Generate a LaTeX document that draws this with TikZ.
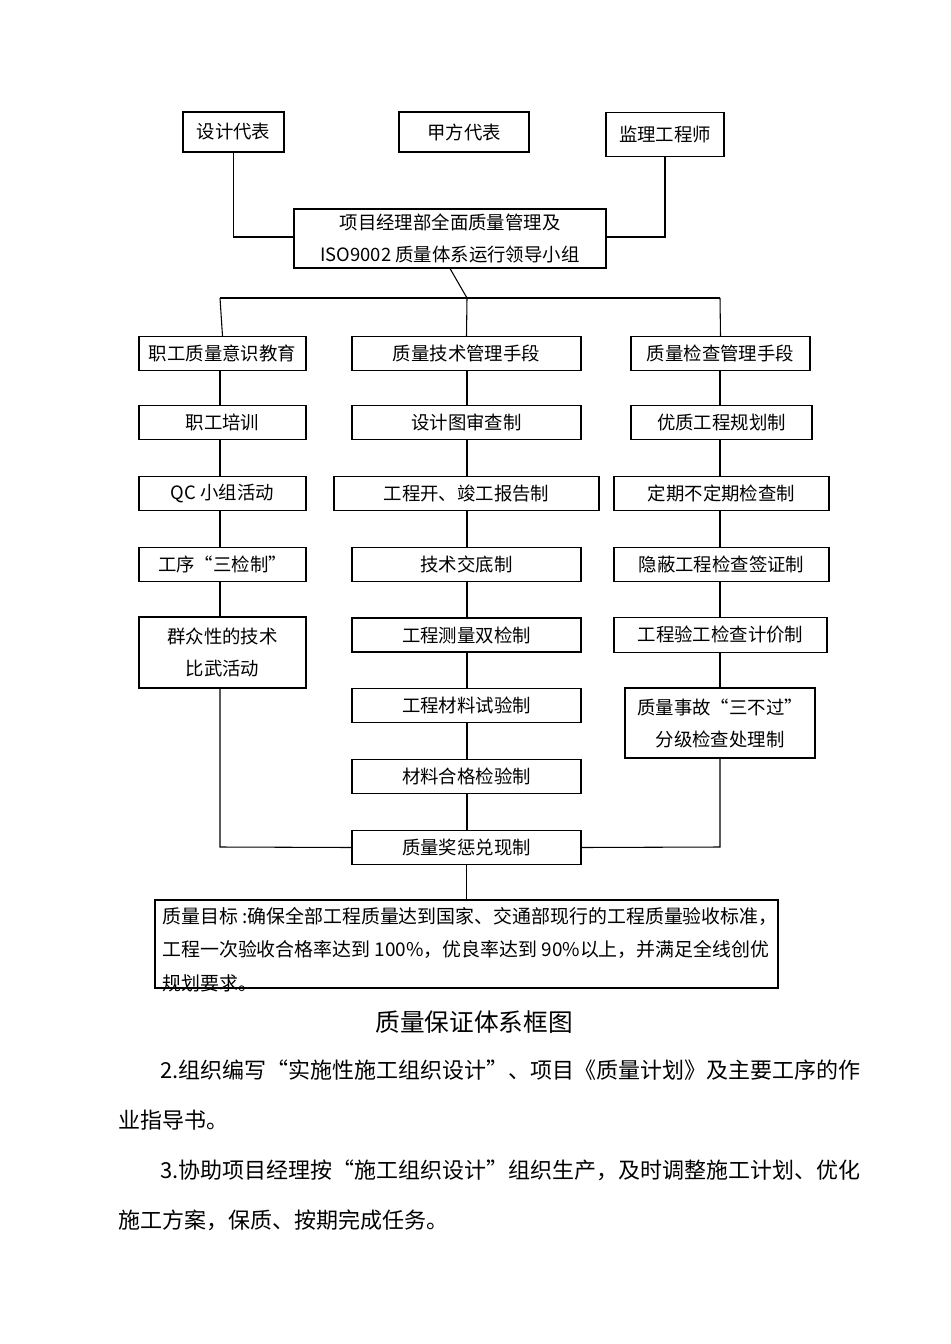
\documentclass[tikz,border=0pt]{standalone}
\usepackage{fontspec}
\setmainfont{Noto Sans CJK SC}
\begin{document}
\begin{tikzpicture}[x=0.75pt,y=-0.75pt,
  bx/.style={draw,fill=white,line width=0.8pt,inner sep=0pt,align=center,font=\fontsize{13.8}{24}\selectfont},
  ln/.style={line width=0.8pt}]
\useasboundingbox (0,0) rectangle (950,1344);
\coordinate (j1) at (233,237);\coordinate (j2) at (666,237);
\coordinate (h1) at (220,298);\coordinate (h2) at (720,298);\coordinate (hm) at (467,298);
\coordinate (b1) at (220,847);\coordinate (b3) at (720,847);
\node[bx,minimum width={101*0.75pt},minimum height={40*0.75pt}] (sj) at (233.5,132) {设计代表};
\node[bx,minimum width={130*0.75pt},minimum height={40*0.75pt}] (jf) at (464,132) {甲方代表};
\node[bx,line width=1.4pt,minimum width={118*0.75pt},minimum height={44*0.75pt}] (jl) at (665,134.5) {监理工程师};
\node[bx,minimum width={312*0.75pt},minimum height={59*0.75pt}] (top) at (450,238.5) {项目经理部全面质量管理及\\ISO9002 质量体系运行领导小组};
\tikzset{c1/.style={bx,minimum width={167*0.75pt},minimum height={34*0.75pt}}}
\node[c1] (a1) at (222.5,353.5) {职工质量意识教育};
\node[c1] (a2) at (222.5,422.5) {职工培训};
\node[c1] (a3) at (222.5,493.5) {QC 小组活动};
\node[c1] (a4) at (222.5,564.5) {工序“三检制”};
\node[c1,minimum height={71*0.75pt}] (a5) at (222.5,652.5) {群众性的技术\\比武活动};
\tikzset{c2/.style={bx,minimum width={229*0.75pt},minimum height={34*0.75pt}}}
\node[c2] (m1) at (466.5,353.5) {质量技术管理手段};
\node[c2] (m2) at (466.5,422.5) {设计图审查制};
\node[c2,minimum width={265*0.75pt}] (m3) at (466.5,493.5) {工程开、竣工报告制};
\node[c2] (m4) at (466.5,564.5) {技术交底制};
\node[c2] (m5) at (466.5,635) {工程测量双检制};
\node[c2] (m6) at (466.5,705.5) {工程材料试验制};
\node[c2] (m7) at (466.5,776.5) {材料合格检验制};
\node[c2] (m8) at (466.5,847.5) {质量奖惩兑现制};
\node[bx,minimum width={179*0.75pt},minimum height={34*0.75pt}] (r1) at (720.5,353.5) {质量检查管理手段};
\node[bx,minimum width={181*0.75pt},minimum height={34*0.75pt}] (r2) at (721.5,422.5) {优质工程规划制};
\node[bx,minimum width={215*0.75pt},minimum height={34*0.75pt}] (r3) at (721.5,493.5) {定期不定期检查制};
\node[bx,minimum width={215*0.75pt},minimum height={34*0.75pt}] (r4) at (721.5,564.5) {隐蔽工程检查签证制};
\node[bx,minimum width={213*0.75pt},minimum height={35*0.75pt}] (r5) at (720.5,635) {工程验工检查计价制};
\node[bx,minimum width={190*0.75pt},minimum height={70*0.75pt}] (r6) at (720,723) {质量事故“三不过”\\分级检查处理制};
\node[draw,line width=0.8pt,minimum width={623*0.75pt},minimum height={88*0.75pt},inner sep=0pt] (goal) at (466.5,944) {};
\node[anchor=north west,align=left,inner sep=0pt,font=\fontsize{14.2}{25}\selectfont] (gt) at (162,907) {质量目标 :确保全部工程质量达到国家、交通部现行的工程质量验收标准，\\工程一次验收合格率达到 100\%，优良率达到 90\%以上，并满足全线创优\\规划要求。};
\draw[ln] (sj.south) |- (top.west |- j1);
\draw[ln] (jl.south) |- (top.east |- j2);
\draw[ln] (top.south) -- (hm);
\draw[ln] (h1) -- (h2);
\draw[ln] (h1) -- (a1.north);
\draw[ln] (hm) -- (m1.north);
\draw[ln] (h2) -- (r1.north);
\draw[ln] (a1.south -| h1) -- (a2.north -| h1);
\draw[ln] (a2.south -| h1) -- (a3.north -| h1);
\draw[ln] (a3.south -| h1) -- (a4.north -| h1);
\draw[line width=1.6pt] (a4.south -| h1) -- (a5.north -| h1);
\draw[ln] (a5.south -| h1) -- (b1) -- (m8.west);
\foreach \p/\q in {m1/m2,m2/m3,m3/m4,m4/m5,m5/m6,m6/m7,m7/m8} \draw[ln] (\p.south -| hm) -- (\q.north -| hm);
\draw[ln] (m8.south) -- (goal.north -| m8);
\foreach \p/\q in {r1/r2,r2/r3,r3/r4,r4/r5,r5/r6} \draw[ln] (\p.south -| h2) -- (\q.north -| h2);
\draw[ln] (r6.south -| h2) -- (b3) -- (m8.east);
\node[font=\fontsize{18.5}{22}\selectfont] (title) at (474,1022) {质量保证体系框图};
\tikzset{para/.style={anchor=west,inner sep=0pt,font=\fontsize{16.5}{20}\selectfont}}
\node[para] (p1) at (160,1070) {2.组织编写“实施性施工组织设计”、项目《质量计划》及主要工序的作};
\node[para] (p2) at (118,1120) {业指导书。};
\node[para] (p3) at (160,1170) {3.协助项目经理按“施工组织设计”组织生产，及时调整施工计划、优化};
\node[para] (p4) at (118,1220) {施工方案，保质、按期完成任务。};
\end{tikzpicture}
\end{document}
